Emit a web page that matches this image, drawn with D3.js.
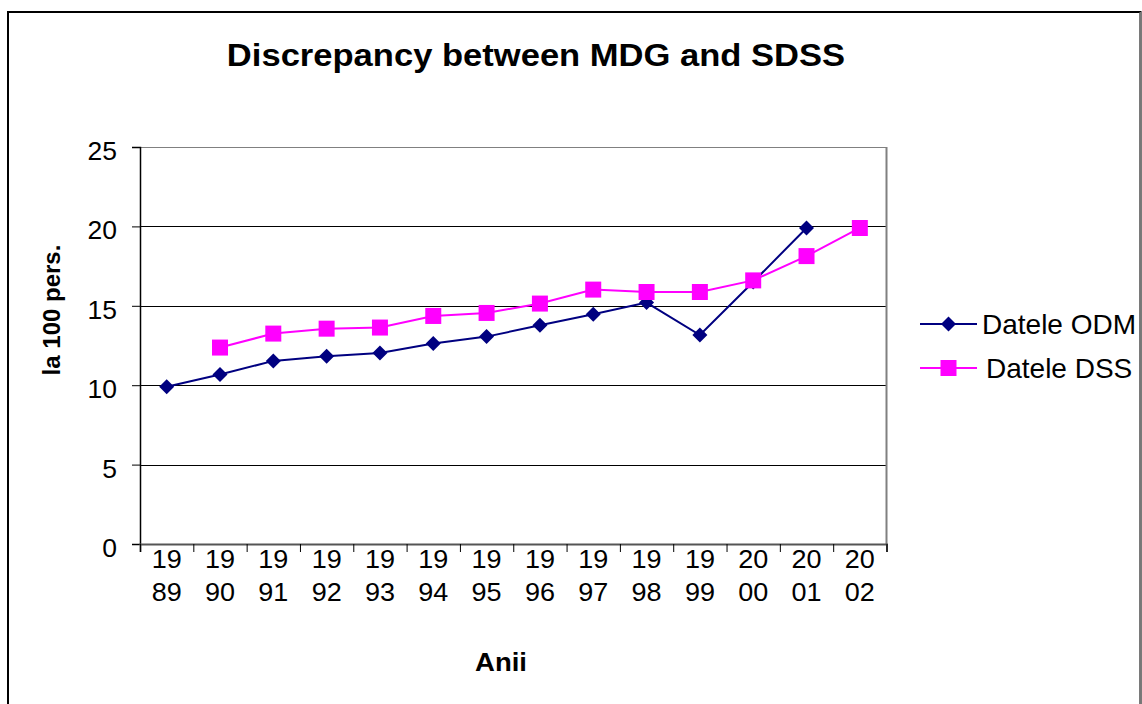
<!DOCTYPE html>
<html>
<head>
<meta charset="utf-8">
<script src="https://cdn.jsdelivr.net/npm/d3@7"></script>
<style>
  body { margin: 0; background: #fff; }
  svg { display: block; }
  text { font-family: "Liberation Sans", Arial, sans-serif; fill: #000; }
</style>
</head>
<body>
<svg id="chart"></svg>
<script>
const width = 1142
const height = 704

// Data
const years = ["1989", "1990", "1991", "1992", "1993", "1994", "1995",
               "1996", "1997", "1998", "1999", "2000", "2001", "2002"]
const odmValues = [9.9, 10.67, 11.53, 11.82, 12.03, 12.62, 13.06,
                   13.77, 14.47, 15.2, 13.16, 16.5, 19.9, null]
const dssValues = [null, 12.37, 13.25, 13.56, 13.63, 14.36, 14.55,
                   15.14, 16.02, 15.87, 15.87, 16.6, 18.13, 19.9]
const yTicks = [0, 5, 10, 15, 20, 25]

const seriesNames = ["Datele ODM", "Datele DSS"]
const seriesColors = ["#000080", "#FF00FF"]

// Layout
const plot = { left: 140, right: 886.5, top: 147, bottom: 544 }

const svg = d3.select("#chart")
    .attr("width", width)
    .attr("height", height)

// outer frame (bottom edge runs off the picture)
svg.append("path")
    .attr("d", `M8,${height + 5}V12H1140.5V${height + 5}`)
    .attr("fill", "none")
    .attr("stroke", "#000")
    .attr("stroke-width", 2)
svg.append("line")
    .attr("x1", 1140.5).attr("x2", 1140.5)
    .attr("y1", 12).attr("y2", height)
    .attr("stroke", "#777").attr("stroke-width", 2)

const x = d3.scaleBand()
    .domain(years)
    .range([plot.left, plot.right])

const y = d3.scaleLinear()
    .domain([0, 25])
    .range([plot.bottom, plot.top])

// text helper: the source chart's glyphs are a touch wider than the installed font
function addText(parent, str, px, py, opts) {
    return parent.append("text")
        .attr("transform", `translate(${px},${py}) scale(${opts.sx || 1},1)` + (opts.rotate ? ` rotate(${opts.rotate})` : ""))
        .attr("font-size", opts.size)
        .attr("font-weight", opts.bold ? "bold" : "normal")
        .attr("text-anchor", opts.anchor || "middle")
        .text(str)
}

// gridlines
svg.append("g")
    .selectAll("line")
    .data(yTicks.filter(d => d > 0))
    .join("line")
    .attr("x1", plot.left).attr("x2", plot.right)
    .attr("y1", d => Math.round(y(d)) + 0.5)
    .attr("y2", d => Math.round(y(d)) + 0.5)
    .attr("stroke", d => d === 25 ? "#808080" : "#000")
    .attr("stroke-width", 1)

// plot right border
svg.append("line")
    .attr("x1", plot.right).attr("x2", plot.right)
    .attr("y1", plot.top).attr("y2", plot.bottom)
    .attr("stroke", "#808080").attr("stroke-width", 2)

// y axis
const yAxis = svg.append("g")
    .attr("transform", `translate(${plot.left},0)`)
    .call(d3.axisLeft(y).tickValues(yTicks).tickSize(8).tickFormat(""))
yAxis.select(".domain").attr("stroke", "#000").attr("stroke-width", 1.5)
yAxis.selectAll(".tick line").attr("stroke", "#000")

yTicks.forEach(v => {
    addText(svg, String(v), 117, y(v) + 13, { size: 25, sx: 1.06, anchor: "end" })
})

// x axis: ticks at category boundaries
const xBoundary = d3.scaleLinear().domain([0, years.length]).range([plot.left, plot.right])
const xAxis = svg.append("g")
    .attr("transform", `translate(0,${plot.bottom})`)
    .call(d3.axisBottom(xBoundary).tickValues(d3.range(years.length + 1)).tickSize(8).tickFormat(""))
xAxis.select(".domain").attr("stroke", "#555").attr("stroke-width", 2)
xAxis.selectAll(".tick line").attr("stroke", "#000")

years.forEach(yr => {
    const cx = x(yr) + x.bandwidth() / 2
    addText(svg, yr.slice(0, 2), cx, 568, { size: 25, sx: 1.08 })
    addText(svg, yr.slice(2), cx, 601, { size: 25, sx: 1.08 })
})

// titles
addText(svg, "Discrepancy between MDG and SDSS", 536, 66, { size: 32, sx: 1.08, bold: true })
addText(svg, "Anii", 501, 671, { size: 25, sx: 1.1, bold: true })
addText(svg, "la 100 pers.", 60, 310, { size: 24, bold: true, rotate: -90 })

// series
const seriesData = [odmValues, dssValues]
const line = d3.line()
    .defined(d => d.v != null)
    .x(d => x(d.yr) + x.bandwidth() / 2)
    .y(d => y(d.v))

const diamond = "M0,-7.5L7.5,0L0,7.5L-7.5,0Z"
const square = "M-8,-8H8V8H-8Z"
const markers = [diamond, square]

// ODM first, DSS drawn on top of it
seriesData.forEach((vals, i) => {
    const pts = years.map((yr, j) => ({ yr, v: vals[j] }))
    svg.append("path")
        .datum(pts)
        .attr("d", line)
        .attr("fill", "none")
        .attr("stroke", seriesColors[i])
        .attr("stroke-width", 2)
    svg.append("g")
        .selectAll("path")
        .data(pts.filter(d => d.v != null))
        .join("path")
        .attr("transform", d => `translate(${x(d.yr) + x.bandwidth() / 2},${y(d.v)})`)
        .attr("d", markers[i])
        .attr("fill", seriesColors[i])
})

// legend
const legendRows = [324, 368]
seriesNames.forEach((name, i) => {
    const ly = legendRows[i]
    const g = svg.append("g")
    g.append("line")
        .attr("x1", 920).attr("x2", 977)
        .attr("y1", ly).attr("y2", ly)
        .attr("stroke", seriesColors[i]).attr("stroke-width", 2)
    g.append("path")
        .attr("transform", `translate(948.5,${ly})`)
        .attr("d", markers[i])
        .attr("fill", seriesColors[i])
    addText(svg, name, i === 0 ? 982 : 986, ly + 10, { size: 28, sx: 1.0, anchor: "start" })
})
</script>
</body>
</html>
